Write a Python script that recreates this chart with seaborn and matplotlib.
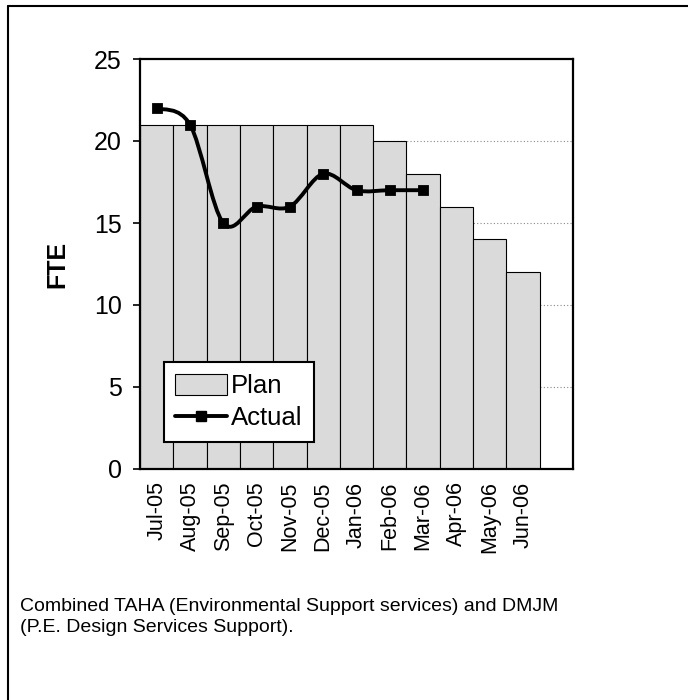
import numpy as np
import pandas as pd
import matplotlib.pyplot as plt
import seaborn as sns
from matplotlib.path import Path
from matplotlib.patches import PathPatch, Patch
from matplotlib.lines import Line2D

# Dados do grafico
meses = ["Jul-05", "Aug-05", "Sep-05", "Oct-05", "Nov-05", "Dec-05",
         "Jan-06", "Feb-06", "Mar-06", "Apr-06", "May-06", "Jun-06"]
plano = [21, 21, 21, 21, 21, 21, 21, 20, 18, 16, 14, 12]
real = [22, 21, 15, 16, 16, 18, 17, 17, 17]
legenda = "Combined TAHA (Environmental Support services) and DMJM\n(P.E. Design Services Support)."

sns.set_style("white")
plt.rcParams['font.family'] = ['Liberation Sans', 'DejaVu Sans']
plt.rcParams.update({"text.color": "black", "axes.labelcolor": "black",
                     "xtick.color": "black", "ytick.color": "black"})

df_plano = pd.DataFrame({"mes": meses, "FTE": plano})
df_real = pd.DataFrame({"mes": meses[:len(real)], "FTE": real})

fig = plt.figure(figsize=(6.88, 7), dpi=100)
ax = fig.add_axes([140 / 688, 1 - 469 / 700, 433 / 688, 410 / 700])

# grade pontilhada atras das barras
for yv in [5, 10, 15, 20]:
    ax.axhline(yv, color="#888888", lw=0.8, ls=(0, (1, 2)), zorder=0)

sns.barplot(data=df_plano, x="mes", y="FTE", order=meses, color="#dadada",
            edgecolor="black", linewidth=0.8, width=1.0, saturation=1, ax=ax, zorder=1)

# linha suavizada (Bezier tipo Catmull-Rom) passando pelos pontos
pos = np.arange(len(real), dtype=float)
vals = np.array(real, dtype=float)
verts = [(pos[0], vals[0])]
codes = [Path.MOVETO]
for i in range(len(pos) - 1):
    p0 = np.array([pos[max(i - 1, 0)], vals[max(i - 1, 0)]])
    p1 = np.array([pos[i], vals[i]])
    p2 = np.array([pos[i + 1], vals[i + 1]])
    p3 = np.array([pos[min(i + 2, len(pos) - 1)], vals[min(i + 2, len(pos) - 1)]])
    c1 = p1 + (p2 - p0) / 6
    c2 = p2 - (p3 - p1) / 6
    verts += [tuple(c1), tuple(c2), tuple(p2)]
    codes += [Path.CURVE4] * 3
ax.add_patch(PathPatch(Path(verts, codes), fill=False, edgecolor="black", lw=2.8, zorder=3))

sns.scatterplot(data=df_real, x="mes", y="FTE", marker="s", s=55, color="black",
                edgecolor="black", ax=ax, zorder=4)

ax.set_xlim(-0.5, 12.5)
ax.set_ylim(0, 25)
ax.set_yticks([0, 5, 10, 15, 20, 25])
ax.set_xlabel("")
ax.set_ylabel("FTE", fontsize=18, fontweight="bold", labelpad=18)
ax.tick_params(axis="y", which="both", direction="inout", length=10, width=1.2,
               labelsize=18, pad=8, left=True)
ax.tick_params(axis="x", length=0, labelsize=15.5, pad=9, labelrotation=90)
for s in ax.spines.values():
    s.set_color("black")
    s.set_linewidth(1.6)

handles = [Patch(facecolor="#dadada", edgecolor="black", linewidth=0.8),
           Line2D([], [], color="black", lw=2.8, marker="s", markersize=7)]
leg = ax.legend(handles, ["Plan", "Actual"], loc="lower left",
                bbox_to_anchor=(0.055, 0.066), fontsize=18.5, frameon=True,
                fancybox=False, framealpha=1, facecolor="white",
                borderpad=0.45, labelspacing=0.3,
                handlelength=2.0, handleheight=0.9, handletextpad=0.15,
                borderaxespad=0)
leg.get_frame().set_edgecolor("black")
leg.get_frame().set_linewidth(1.5)
leg.set_zorder(5)

fig.text(20 / 688, 1 - 598 / 700, legenda, fontsize=14, va="top", ha="left",
         linespacing=1.3)

# moldura da figura
fig.add_artist(Line2D([8 / 688, 1], [1 - 6 / 700, 1 - 6 / 700], color="black", lw=1.5))
fig.add_artist(Line2D([8 / 688, 8 / 688], [0, 1 - 6 / 700], color="black", lw=1.5))

fig.savefig("out.png", dpi=100)
